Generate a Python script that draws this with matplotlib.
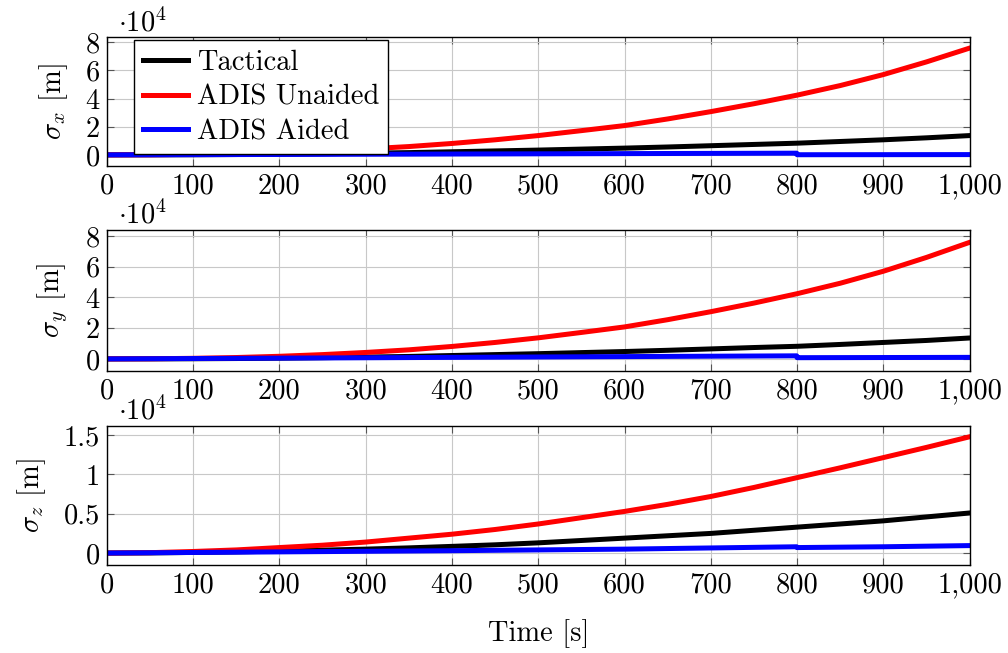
import numpy as np
import matplotlib.pyplot as plt
from matplotlib.ticker import FuncFormatter, MultipleLocator

plt.rcParams['font.family'] = 'serif'
plt.rcParams['font.serif'] = ['cmr10']
plt.rcParams['mathtext.fontset'] = 'cm'
plt.rcParams['axes.formatter.use_mathtext'] = True
plt.rcParams['axes.unicode_minus'] = False

# Position standard deviations, in units of 1e4 m
t = [0, 50, 100, 150, 200, 250, 300, 350, 400, 450, 500,
     550, 600, 650, 700, 750, 800, 850, 900, 950, 1000]

tactical_x = [0, 0.003, 0.01, 0.025, 0.05, 0.08, 0.12, 0.16, 0.22, 0.28, 0.34,
              0.41, 0.48, 0.56, 0.65, 0.74, 0.83, 0.95, 1.07, 1.21, 1.37]
unaided_x = [0, 0.009, 0.038, 0.09, 0.17, 0.28, 0.42, 0.59, 0.81, 1.07, 1.37,
             1.72, 2.08, 2.55, 3.07, 3.63, 4.24, 4.92, 5.7, 6.6, 7.58]
tactical_y = [0, 0.003, 0.01, 0.025, 0.05, 0.08, 0.12, 0.16, 0.22, 0.28, 0.34,
              0.41, 0.48, 0.56, 0.65, 0.74, 0.82, 0.94, 1.07, 1.2, 1.36]
unaided_y = [0, 0.009, 0.038, 0.09, 0.17, 0.28, 0.42, 0.59, 0.81, 1.07, 1.37,
             1.72, 2.08, 2.55, 3.07, 3.63, 4.24, 4.92, 5.7, 6.6, 7.58]
tactical_z = [0, 0.002, 0.008, 0.015, 0.025, 0.037, 0.05, 0.066, 0.085, 0.105, 0.13,
              0.16, 0.19, 0.22, 0.25, 0.29, 0.33, 0.37, 0.41, 0.46, 0.51]
unaided_z = [0, 0.005, 0.02, 0.04, 0.07, 0.1, 0.14, 0.19, 0.24, 0.3, 0.37,
             0.45, 0.53, 0.62, 0.72, 0.835, 0.96, 1.085, 1.215, 1.345, 1.48]

# aided filter resets at 800 s
t_aided = [0, 200, 400, 600, 799.5, 800, 900, 1000]
aided_x = [0, 0.03, 0.06, 0.09, 0.12, 0.01, 0.015, 0.02]
aided_y = [0, 0.05, 0.1, 0.15, 0.2, 0.08, 0.09, 0.1]
aided_z = [0, 0.015, 0.03, 0.05, 0.08, 0.07, 0.08, 0.095]

panels = [
    (r'$\sigma_x$ [m]', tactical_x, unaided_x, aided_x, (-0.78, 8.35), 2),
    (r'$\sigma_y$ [m]', tactical_y, unaided_y, aided_y, (-0.78, 8.39), 2),
    (r'$\sigma_z$ [m]', tactical_z, unaided_z, aided_z, (-0.15, 1.62), 0.5),
]
boxes = [(0.106, 0.746, 0.856, 0.197),
         (0.106, 0.432, 0.856, 0.216),
         (0.106, 0.135, 0.856, 0.213)]

fig = plt.figure(figsize=(10.08, 6.53), dpi=100)
fs = 20.5
lw = 3.6

for i, (label, tac, una, aid, ylim, step) in enumerate(panels):
    ax = fig.add_axes(boxes[i])
    ax.plot(t, tac, color='black', lw=lw, label='Tactical')
    ax.plot(t, una, color='#ff0000', lw=lw, label='ADIS Unaided')
    ax.plot(t_aided, aid, color='#0000ff', lw=lw, label='ADIS Aided')
    ax.set_xlim(0, 1000)
    ax.set_ylim(*ylim)
    ax.xaxis.set_major_locator(MultipleLocator(100))
    ax.yaxis.set_major_locator(MultipleLocator(step))
    ax.xaxis.set_major_formatter(FuncFormatter(lambda v, p: f'{v:,.0f}'))
    ax.yaxis.set_major_formatter(FuncFormatter(lambda v, p: f'{v:g}'))
    ax.grid(True, color='#c8c8c8', lw=0.8)
    ax.set_axisbelow(True)
    ax.tick_params(direction='in', top=True, right=True, length=5,
                   color='#555555', labelsize=fs, pad=5)
    for s in ax.spines.values():
        s.set_linewidth(1.0)
    ax.set_ylabel(label, fontsize=fs, labelpad=11)
    ax.annotate(r'$\cdot 10^4$', xy=(0, 1), xycoords='axes fraction',
                xytext=(8, 0), textcoords='offset points',
                ha='left', va='bottom', fontsize=fs)
    if i == 0:
        ax.legend(loc='upper left', bbox_to_anchor=(0.031, 0.977),
                  borderaxespad=0, fontsize=fs, frameon=True, fancybox=False,
                  framealpha=1, edgecolor='black', handlelength=1.6,
                  handletextpad=0.3, labelspacing=0.3, borderpad=0.32)
    if i == 2:
        ax.set_xlabel('Time [s]', fontsize=fs, labelpad=15)

fig.savefig('out.png', dpi=100)
